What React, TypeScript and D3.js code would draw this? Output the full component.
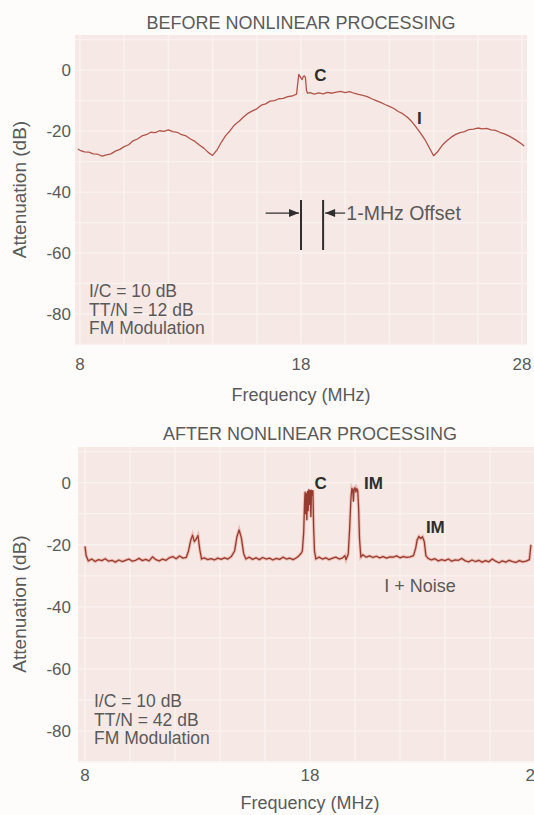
import React from "react";
import * as d3 from "d3";

// ---------- DATA ----------
const xTicks = [8, 18, 28];
const yTicks = [0, -20, -40, -60, -80];

// Before nonlinear processing: frequency (MHz) and attenuation (dB)
const beforeFreq = [
  7.9, 8.0, 8.2, 8.4, 8.6, 8.8, 9.0, 9.2, 9.4, 9.6, 9.8, 10.0, 10.2, 10.4, 10.6, 10.8, 11.0, 11.2, 11.4, 11.6,
  11.8, 12.0, 12.2, 12.4, 12.6, 12.8, 13.0, 13.2, 13.4, 13.6, 13.8, 14.0, 14.2, 14.4, 14.6, 14.8, 15.0, 15.2,
  15.4, 15.6, 15.8, 16.0, 16.2, 16.4, 16.6, 16.8, 17.0, 17.2, 17.4, 17.6, 17.8, 17.85, 17.9, 17.95, 18.0, 18.05,
  18.1, 18.15, 18.2, 18.25, 18.3, 18.4, 18.6, 18.8, 19.0, 19.2, 19.4, 19.6, 19.8, 20.0, 20.2, 20.4, 20.6, 20.8,
  21.0, 21.2, 21.4, 21.6, 21.8, 22.0, 22.2, 22.4, 22.6, 22.8, 23.0, 23.2, 23.4, 23.6, 23.8, 24.0, 24.2, 24.4,
  24.6, 24.8, 25.0, 25.2, 25.4, 25.6, 25.8, 26.0, 26.2, 26.4, 26.6, 26.8, 27.0, 27.2, 27.4, 27.6, 27.8, 28.0, 28.1,
];
const beforeDb = [
  -25.9, -26.3, -26.8, -26.9, -27.5, -27.6, -28.2, -27.8, -27.5, -26.6, -26.0, -25.1, -24.5, -23.2, -22.6, -21.6,
  -21.2, -20.4, -20.5, -19.9, -20.1, -19.6, -20.2, -20.4, -21.2, -21.6, -22.6, -23.4, -24.6, -25.6, -27.0, -28.0,
  -26.2, -23.6, -21.4, -19.8, -17.9, -16.8, -15.4, -14.2, -13.4, -12.7, -11.5, -11.1, -10.2, -10.0, -9.4, -9.3,
  -8.7, -8.5, -7.9, -4.5, -1.4, -2.0, -2.6, -3.1, -2.2, -1.9, -2.4, -6.8, -7.6, -7.4, -7.9, -7.5, -7.8, -7.3,
  -7.6, -7.2, -7.0, -7.4, -7.1, -7.6, -8.0, -8.3, -8.7, -9.4, -10.0, -10.6, -11.3, -11.9, -12.6, -13.6, -14.3,
  -15.4, -16.8, -18.6, -20.6, -22.7, -25.4, -28.1, -26.6, -24.6, -23.2, -22.0, -21.1, -20.5, -20.2, -19.5, -19.4,
  -19.0, -19.3, -19.1, -19.6, -19.8, -20.4, -20.9, -21.6, -22.4, -23.3, -24.3, -24.9,
];

// After nonlinear processing
const afterFreq = [
  8.0, 8.05, 8.15, 8.3, 8.45, 8.6, 8.75, 8.9, 9.05, 9.2, 9.35, 9.5, 9.65, 9.8, 9.95, 10.1, 10.25, 10.4, 10.55,
  10.7, 10.85, 11.0, 11.15, 11.3, 11.45, 11.6, 11.75, 11.9, 12.05, 12.2, 12.35, 12.5, 12.6, 12.7, 12.78, 12.86,
  12.94, 13.02, 13.1, 13.18, 13.3, 13.45, 13.6, 13.75, 13.9, 14.05, 14.2, 14.35, 14.5, 14.65, 14.75, 14.85, 14.95,
  15.05, 15.15, 15.3, 15.45, 15.6, 15.75, 15.9, 16.05, 16.2, 16.35, 16.5, 16.65, 16.8, 16.95, 17.1, 17.25, 17.4,
  17.5, 17.6, 17.66, 17.72, 17.76, 17.78, 17.8, 17.83, 17.86, 17.89, 17.92, 17.95, 17.98, 18.01, 18.04, 18.07,
  18.1, 18.13, 18.16, 18.2, 18.26, 18.4, 18.55, 18.7, 18.85, 19.0, 19.15, 19.3, 19.45, 19.55, 19.6, 19.7, 19.76,
  19.82, 19.86, 19.9, 19.93, 19.96, 20.0, 20.04, 20.08, 20.12, 20.16, 20.2, 20.26, 20.35, 20.5, 20.65, 20.8,
  20.95, 21.1, 21.25, 21.4, 21.55, 21.7, 21.85, 22.0, 22.15, 22.3, 22.45, 22.6, 22.7, 22.76, 22.84, 22.92, 23.0,
  23.08, 23.15, 23.25, 23.4, 23.55, 23.7, 23.85, 24.0, 24.15, 24.3, 24.45, 24.6, 24.75, 24.9, 25.05, 25.2, 25.35,
  25.5, 25.65, 25.8, 25.95, 26.1, 26.25, 26.4, 26.55, 26.7, 26.85, 27.0, 27.15, 27.3, 27.45, 27.6, 27.75, 27.82,
];
const afterDb = [
  -20.5, -23.5, -25.2, -24.6, -25.4, -24.8, -25.1, -24.5, -25.3, -25.0, -25.6, -24.9, -25.4, -25.0, -24.6, -25.3,
  -25.0, -24.4, -25.1, -24.7, -25.2, -23.9, -24.8, -25.2, -24.6, -25.0, -24.2, -23.8, -24.5, -23.6, -24.3, -24.1,
  -22.0, -18.5, -16.9, -19.0, -18.2, -17.0, -21.5, -24.6, -24.2, -24.8, -24.5, -24.9, -24.3, -24.7, -24.2, -24.6,
  -23.8, -22.0, -17.5, -15.2, -17.8, -22.8, -24.6, -24.0, -24.7, -24.2, -24.8, -24.1, -24.6, -24.3, -24.9, -24.4,
  -24.7, -24.0, -24.6, -24.3, -24.8, -24.2, -23.6, -22.8, -22.0, -16.0, -6.0, -3.0, -10.0, -3.5, -12.0, -2.8,
  -9.0, -2.2, -7.0, -2.5, -11.0, -2.4, -4.0, -2.6, -14.0, -22.0, -24.6, -24.0, -24.6, -24.2, -24.8, -24.3, -24.0,
  -24.6, -24.2, -23.5, -24.8, -23.0, -15.0, -5.0, -1.8, -2.4, -6.0, -2.0, -1.6, -3.0, -1.9, -2.5, -8.0, -18.0,
  -24.0, -23.2, -24.0, -23.6, -24.1, -23.7, -24.2, -23.8, -24.3, -23.9, -24.0, -23.6, -24.2, -23.8, -24.1, -23.9,
  -23.5, -21.0, -18.5, -17.3, -18.0, -17.4, -19.0, -23.5, -24.4, -24.9, -24.5, -25.2, -24.8, -25.1, -24.6, -25.3,
  -24.9, -25.0, -24.4, -25.2, -25.5, -24.9, -25.4, -25.0, -25.6, -25.1, -25.5, -24.6, -25.3, -25.8, -25.2, -25.6,
  -25.0, -25.4, -25.7, -25.1, -25.5, -25.3, -24.8, -20.0,
];

const beforeNotes = ["I/C = 10 dB", "TT/N = 12 dB", "FM Modulation"];
const afterNotes = ["I/C = 10 dB", "TT/N = 42 dB", "FM Modulation"];

// offset annotation (MHz, dB)
const offsetLines = [18, 19];
const offsetSpan = [-42.6, -59];
const offsetArrowDb = -46.9;

const FONT = "'Liberation Sans', Arial, Helvetica, sans-serif";
const GRAY = "#5a5a5a";
const DARK = "#2e2e2e";

type PanelProps = {
  title: string;
  titleY: number;
  px0: number;
  px1: number;
  py0: number;
  py1: number;
  xr: [number, number];
  yr: [number, number];
  freq: number[];
  db: number[];
  notes: string[];
  noteX: number;
  noteY: number;
  noteDy: number;
  xLabelY: number;
  xTitleY: number;
  heavy: boolean;
  children?: (x: d3.ScaleLinear<number, number>, y: d3.ScaleLinear<number, number>) => React.ReactNode;
};

function Panel(p: PanelProps) {
  const x = d3.scaleLinear().domain([8, 28]).range(p.xr);
  const y = d3.scaleLinear().domain([-90, 11.5]).range(p.yr);
  const pts = p.freq.map((f, i) => [f, p.db[i]] as [number, number]);
  const line = d3
    .line<[number, number]>()
    .x((d) => x(d[0]))
    .y((d) => y(d[1]));
  const path = line(pts) || "";
  const vGrid = d3.range(8, 29, 2);
  const hGrid = d3.range(-90, 11, 10);
  const cx = (p.xr[0] + p.xr[1]) / 2;
  return (
    <g>
      <text x={cx} y={p.titleY} textAnchor="middle" fontSize={18} fill={GRAY} fontFamily={FONT}>
        {p.title}
      </text>
      <rect x={p.px0} y={p.py0} width={p.px1 - p.px0} height={p.py1 - p.py0} fill="#f6e8e4" />
      {vGrid.map((v) => (
        <line key={"v" + v} x1={x(v)} x2={x(v)} y1={p.py0} y2={p.py1} stroke="#faf2ef" strokeWidth={1.5} />
      ))}
      {hGrid.map((v) => (
        <line key={"h" + v} x1={p.px0} x2={p.px1} y1={y(v)} y2={y(v)} stroke="#faf2ef" strokeWidth={1.3} />
      ))}
      {p.heavy && <path d={path} fill="none" stroke="#e59a8e" strokeOpacity={0.55} strokeWidth={3.2} />}
      <path
        d={path}
        fill="none"
        stroke={p.heavy ? "#963b30" : "#b0544a"}
        strokeWidth={1.3}
        strokeLinejoin="round"
      />
      {yTicks.map((t) => (
        <text key={"yt" + t} x={71} y={y(t) + 6} textAnchor="end" fontSize={17} fill={GRAY} fontFamily={FONT}>
          {t}
        </text>
      ))}
      {xTicks.map((t) => (
        <text key={"xt" + t} x={x(t)} y={p.xLabelY} textAnchor="middle" fontSize={17} fill={GRAY} fontFamily={FONT}>
          {t}
        </text>
      ))}
      <text x={x(18)} y={p.xTitleY} textAnchor="middle" fontSize={18} fill={GRAY} fontFamily={FONT}>
        Frequency (MHz)
      </text>
      <text
        transform={`translate(26,${(p.py0 + p.py1) / 2}) rotate(-90)`}
        textAnchor="middle"
        fontSize={19}
        fill={GRAY}
        fontFamily={FONT}
      >
        Attenuation (dB)
      </text>
      {p.notes.map((n, i) => (
        <text key={n} x={p.noteX} y={p.noteY + i * p.noteDy} fontSize={17.5} fill={GRAY} fontFamily={FONT}>
          {n}
        </text>
      ))}
      {p.children && p.children(x, y)}
    </g>
  );
}

export default function App() {
  return (
    <svg
      width={534}
      height={815}
      style={{ position: "absolute", left: 0, top: 0, background: "#fdfcfb" }}
    >
      <defs>
        <marker id="ah" viewBox="0 0 10 10" refX={10} refY={5} markerWidth={13} markerHeight={10} orient="auto" markerUnits="userSpaceOnUse">
          <path d="M0,1 L10,5 L0,9 z" fill={DARK} />
        </marker>
      </defs>
      <Panel
        title="BEFORE NONLINEAR PROCESSING"
        titleY={29}
        px0={75}
        px1={527}
        py0={35}
        py1={344}
        xr={[80, 522]}
        yr={[344.5, 35]}
        freq={beforeFreq}
        db={beforeDb}
        notes={beforeNotes}
        noteX={89}
        noteY={297}
        noteDy={18.5}
        xLabelY={370}
        xTitleY={401}
        heavy={false}
      >
        {(x, y) => (
          <g>
            {offsetLines.map((f) => (
              <line key={f} x1={x(f)} x2={x(f)} y1={y(offsetSpan[0])} y2={y(offsetSpan[1])} stroke={DARK} strokeWidth={2} />
            ))}
            <line x1={x(16.4)} x2={x(18) - 2} y1={y(offsetArrowDb)} y2={y(offsetArrowDb)} stroke={DARK} strokeWidth={1.2} markerEnd="url(#ah)" />
            <line x1={x(20.0)} x2={x(19) + 2} y1={y(offsetArrowDb)} y2={y(offsetArrowDb)} stroke={DARK} strokeWidth={1.2} markerEnd="url(#ah)" />
            <text x={x(20.05)} y={y(offsetArrowDb) + 6.5} fontSize={19.5} fill={GRAY} fontFamily={FONT}>
              1-MHz Offset
            </text>
            <text x={x(18.6)} y={y(-3.5)} fontSize={17} fontWeight="bold" fill={DARK} fontFamily={FONT}>
              C
            </text>
            <text x={x(23.25)} y={y(-17.6)} fontSize={17} fontWeight="bold" fill={DARK} fontFamily={FONT}>
              I
            </text>
          </g>
        )}
      </Panel>
      <Panel
        title="AFTER NONLINEAR PROCESSING"
        titleY={440}
        px0={78}
        px1={534}
        py0={447}
        py1={761}
        xr={[85, 535]}
        yr={[762, 447]}
        freq={afterFreq}
        db={afterDb}
        notes={afterNotes}
        noteX={94}
        noteY={707}
        noteDy={18.5}
        xLabelY={781}
        xTitleY={809}
        heavy={true}
      >
        {(x, y) => (
          <g>
            <text x={x(18.2)} y={y(-2)} fontSize={17} fontWeight="bold" fill={DARK} fontFamily={FONT}>
              C
            </text>
            <text x={x(20.4)} y={y(-2)} fontSize={17} fontWeight="bold" fill={DARK} fontFamily={FONT}>
              IM
            </text>
            <text x={x(23.15)} y={y(-16.2)} fontSize={17} fontWeight="bold" fill={DARK} fontFamily={FONT}>
              IM
            </text>
            <text x={x(21.3)} y={y(-35.3)} fontSize={18} fill={GRAY} fontFamily={FONT}>
              I + Noise
            </text>
          </g>
        )}
      </Panel>
    </svg>
  );
}
